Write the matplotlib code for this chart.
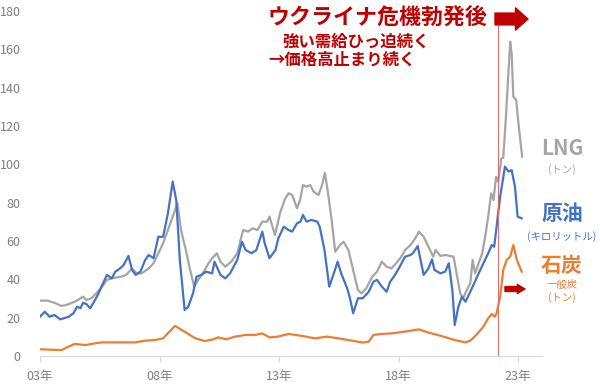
import matplotlib
matplotlib.use("Agg")
import matplotlib.pyplot as plt

plt.rcParams['font.family'] = ['Noto Sans CJK JP', 'DejaVu Sans']

# ---- data (decimal years, values) ----
oil_t = [2003.0, 2003.2, 2003.4, 2003.6, 2003.85, 2004.2, 2004.4, 2004.55, 2004.7, 2004.8, 2004.95,
         2005.1, 2005.3, 2005.45, 2005.6, 2005.8, 2006.0, 2006.15, 2006.35, 2006.5, 2006.7, 2006.85,
         2007.0, 2007.2, 2007.4, 2007.55, 2007.75, 2007.95, 2008.15, 2008.35, 2008.55, 2008.7, 2008.85,
         2009.05, 2009.2, 2009.4, 2009.55, 2009.75, 2009.95, 2010.2, 2010.3, 2010.55, 2010.75, 2010.95,
         2011.25, 2011.45, 2011.6, 2011.85, 2012.05, 2012.3, 2012.4, 2012.6, 2012.85, 2012.97, 2013.2,
         2013.4, 2013.55, 2013.75, 2013.9, 2014.0, 2014.15, 2014.35, 2014.6, 2014.7, 2014.9, 2015.1,
         2015.27, 2015.45, 2015.6, 2015.85, 2015.95, 2016.1, 2016.3, 2016.5, 2016.75, 2016.95, 2017.1,
         2017.3, 2017.5, 2017.65, 2017.85, 2018.05, 2018.27, 2018.5, 2018.6, 2018.8, 2019.05, 2019.25,
         2019.4, 2019.5, 2019.75, 2019.95, 2020.1, 2020.25, 2020.35, 2020.5, 2020.65, 2020.8, 2020.9,
         2021.1, 2021.35, 2021.55, 2021.75, 2021.9, 2022.0, 2022.1, 2022.25, 2022.45, 2022.6, 2022.73,
         2022.87, 2022.98, 2023.15]
oil_v = [20.5, 23.1, 20.5, 21.4, 19.1, 20.5, 22.3, 25.7, 25.0, 27.8, 27.0,
         24.9, 29.2, 32.7, 37.0, 42.3, 40.5, 44.0, 45.7, 47.5, 52.2, 44.9,
         42.3, 44.0, 50.1, 52.7, 51.0, 62.2, 62.2, 74.4, 91.0, 81.4, 50.0,
         24.0, 25.7, 32.7, 41.4, 42.3, 44.0, 43.1, 49.2, 42.3, 40.5, 43.1,
         50.1, 59.6, 55.3, 53.6, 55.3, 64.9, 58.8, 51.0, 55.3, 61.4, 67.5,
         65.7, 64.9, 69.2, 70.1, 73.6, 70.1, 71.0, 70.1, 67.5, 55.3, 36.2,
         42.3, 49.2, 43.1, 35.3, 31.0, 22.3, 30.1, 30.1, 33.5, 38.8, 39.7,
         36.2, 33.5, 38.8, 42.3, 46.6, 51.8, 52.7, 53.6, 57.4, 42.3, 45.7,
         50.4, 44.9, 43.1, 44.0, 48.4, 34.4, 16.2, 25.7, 30.9, 28.3, 30.9,
         36.2, 43.1, 48.4, 53.6, 57.9, 57.0, 67.5, 83.1, 98.8, 96.2, 97.0,
         88.3, 72.7, 71.8]

lng_t = [2003.0, 2003.3, 2003.6, 2003.9, 2004.1, 2004.35, 2004.55, 2004.8, 2004.95, 2005.15, 2005.35,
         2005.6, 2005.8, 2006.0, 2006.2, 2006.4, 2006.6, 2006.85, 2007.05, 2007.25, 2007.55, 2007.75,
         2007.95, 2008.15, 2008.45, 2008.65, 2008.75, 2008.9, 2009.1, 2009.28, 2009.45, 2009.62, 2009.85,
         2010.05, 2010.2, 2010.4, 2010.55, 2010.75, 2011.0, 2011.25, 2011.5, 2011.7, 2011.9, 2012.1,
         2012.3, 2012.5, 2012.6, 2012.83, 2013.05, 2013.25, 2013.4, 2013.55, 2013.75, 2013.88, 2014.0,
         2014.15, 2014.3, 2014.45, 2014.65, 2014.8, 2014.92, 2015.05, 2015.2, 2015.35, 2015.55, 2015.7,
         2015.9, 2016.1, 2016.3, 2016.45, 2016.65, 2016.9, 2017.1, 2017.3, 2017.5, 2017.7, 2017.9,
         2018.1, 2018.27, 2018.5, 2018.7, 2018.85, 2019.05, 2019.25, 2019.45, 2019.55, 2019.75, 2019.95,
         2020.15, 2020.3, 2020.45, 2020.58, 2020.7, 2020.85, 2021.0, 2021.1, 2021.2, 2021.35, 2021.5,
         2021.6, 2021.75, 2021.87, 2021.97, 2022.08, 2022.17, 2022.3, 2022.38, 2022.5, 2022.6, 2022.67,
         2022.73, 2022.8, 2022.92, 2023.0, 2023.17]
lng_v = [28.9, 28.9, 27.8, 26.1, 26.6, 27.8, 28.9, 31.0, 29.2, 30.1, 32.7,
         36.2, 39.7, 40.5, 41.0, 41.4, 42.3, 45.7, 43.1, 43.1, 45.7, 48.4,
         53.6, 58.8, 69.2, 76.2, 79.7, 65.7, 55.3, 44.9, 36.2, 39.7, 44.0,
         48.4, 51.0, 53.6, 49.2, 46.6, 49.2, 53.6, 65.7, 64.9, 66.6, 65.7,
         70.1, 70.1, 72.7, 63.1, 75.0, 82.0, 84.9, 84.0, 77.1, 81.4, 89.2,
         88.3, 89.2, 85.7, 84.0, 89.2, 95.6, 84.9, 71.0, 54.4, 57.9, 59.6,
         55.3, 44.9, 34.4, 32.7, 35.3, 41.4, 44.0, 49.2, 46.6, 45.7, 48.4,
         51.5, 55.3, 57.9, 61.4, 64.9, 62.2, 57.0, 51.8, 55.3, 52.2, 52.7,
         52.2, 51.8, 41.4, 32.7, 30.1, 34.4, 37.9, 50.1, 43.1, 48.4, 53.6,
         60.5, 72.7, 84.9, 81.4, 93.5, 90.9, 103.1, 103.5, 126.6, 149.2, 164.0,
         157.9, 135.3, 133.6, 123.1, 104.0]

coal_t = [2003.0, 2003.9, 2004.2, 2004.45, 2004.9, 2005.3, 2005.6, 2006.2, 2007.0, 2007.4, 2007.8,
          2008.15, 2008.4, 2008.65, 2008.93, 2009.2, 2009.5, 2009.9, 2010.25, 2010.45, 2010.8, 2011.15,
          2011.6, 2012.0, 2012.3, 2012.6, 2012.95, 2013.4, 2014.0, 2014.5, 2015.0, 2015.5, 2016.05,
          2016.5, 2016.75, 2016.95, 2017.3, 2017.7, 2018.25, 2018.85, 2019.25, 2019.8, 2020.35, 2020.8,
          2021.0, 2021.25, 2021.55, 2021.75, 2021.9, 2022.03, 2022.1, 2022.25, 2022.38, 2022.52, 2022.67,
          2022.8, 2022.95, 2023.15]
coal_v = [3.5, 3.1, 4.9, 6.3, 5.7, 6.6, 7.1, 7.1, 7.1, 8.0, 8.3,
          9.2, 12.5, 15.7, 13.6, 11.5, 9.2, 7.8, 8.7, 9.7, 8.7, 10.1,
          11.0, 11.0, 11.8, 9.7, 10.1, 11.5, 10.4, 9.2, 10.1, 9.2, 8.0,
          7.0, 7.5, 11.0, 11.5, 11.8, 12.7, 13.9, 12.2, 10.4, 8.3, 7.1,
          8.0, 11.0, 15.3, 19.7, 21.9, 20.5, 22.3, 31.0, 44.9, 50.1, 51.8,
          57.9, 50.1, 44.0]

tick_years = [2003, 2008, 2013, 2018, 2023]
tick_labels = ["03年", "08年", "13年", "18年", "23年"]
y_ticks = [0, 20, 40, 60, 80, 100, 120, 140, 160, 180]
event_year = 2022.15

C_LNG = "#A5A5A5"
C_OIL = "#4472C4"
C_COAL = "#ED7D31"
C_RED = "#C00000"
C_TXT = "#7F7F7F"

fig = plt.figure(figsize=(6.0, 3.84), dpi=100)
ax = fig.add_axes([40/600, 1 - 356/384, 502/600, 345/384])

ax.plot(lng_t, lng_v, color=C_LNG, lw=1.6, solid_joinstyle='round')
ax.plot(oil_t, oil_v, color=C_OIL, lw=1.6, solid_joinstyle='round')
ax.plot(coal_t, coal_v, color=C_COAL, lw=1.6, solid_joinstyle='round')

ax.axvline(event_year, ymin=0, ymax=0.965, color="#E07070", lw=0.8)

ax.set_xlim(2003, 2024)
ax.set_ylim(0, 180)
ax.set_xticks(tick_years)
ax.set_xticklabels(tick_labels)
ax.set_yticks(y_ticks)
for s in ['top', 'right', 'left']:
    ax.spines[s].set_visible(False)
ax.spines['bottom'].set_color('#D9D9D9')
ax.tick_params(axis='x', colors='#D9D9D9', labelcolor=C_TXT, length=4, width=0.8,
               labelsize=9, pad=6)
ax.tick_params(axis='y', length=0, labelcolor=C_TXT, labelsize=9, pad=14)

# headline annotations
fig.text(268/600, 1 - 17/384, "ウクライナ危機勃発後", color=C_RED, fontsize=15.8,
         fontweight='bold', ha='left', va='center')
fig.text(282/600, 1 - 41.5/384, "強い需給ひっ迫続く", color=C_RED, fontsize=11.8,
         fontweight='bold', ha='left', va='center')
fig.text(268/600, 1 - 60/384, "→価格高止まり続く", color=C_RED, fontsize=11.8,
         fontweight='bold', ha='left', va='center')

# big arrow at top
ax.annotate("", xy=(528/600, 1 - 19/384), xytext=(495/600, 1 - 19/384),
            xycoords='figure fraction', textcoords='figure fraction',
            arrowprops=dict(arrowstyle="simple,head_length=0.9,head_width=1.6,tail_width=0.85",
                            color=C_RED, mutation_scale=10, shrinkA=0, shrinkB=0))

# small arrow near coal
ax.annotate("", xy=(525/600, 1 - 289/384), xytext=(505/600, 1 - 289/384),
            xycoords='figure fraction', textcoords='figure fraction',
            arrowprops=dict(arrowstyle="simple,head_length=0.55,head_width=0.65,tail_width=0.35",
                            color=C_RED, mutation_scale=10, shrinkA=0, shrinkB=0))

# series labels
cx = 562/600
fig.text(cx, 1 - 149/384, "LNG", color=C_LNG, fontsize=15, fontweight='bold', ha='center', va='center')
fig.text(cx, 1 - 170/384, "(トン)", color=C_LNG, fontsize=7.5, ha='center', va='center')
fig.text(cx, 1 - 213/384, "原油", color=C_OIL, fontsize=15, fontweight='bold', ha='center', va='center')
fig.text(cx, 1 - 237/384, "(キロリットル)", color=C_OIL, fontsize=7.5, ha='center', va='center')
fig.text(cx, 1 - 265/384, "石炭", color=C_COAL, fontsize=15, fontweight='bold', ha='center', va='center')
fig.text(cx, 1 - 285/384, "一般炭", color=C_COAL, fontsize=7.5, ha='center', va='center')
fig.text(cx, 1 - 298/384, "(トン)", color=C_COAL, fontsize=7.5, ha='center', va='center')

fig.savefig("out.png", dpi=100, facecolor='white')
